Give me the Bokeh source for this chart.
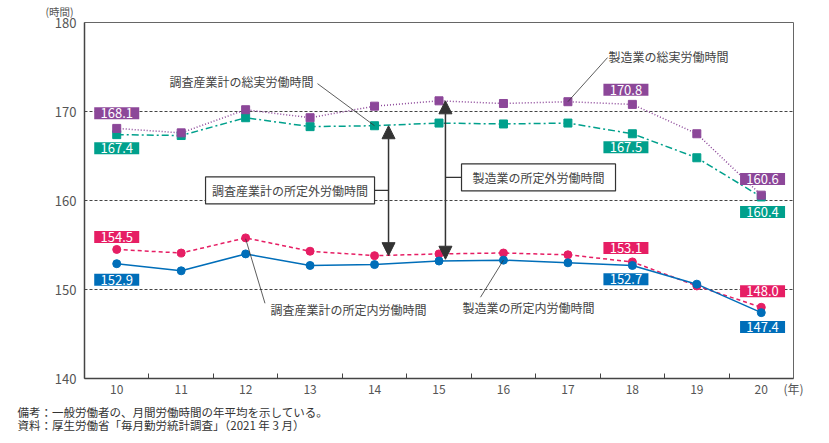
from bokeh.plotting import figure
from bokeh.models import Range1d, FixedTicker, Label, Arrow, NormalHead, Title
from bokeh.core.properties import value
from bokeh.embed import file_html
from bokeh.resources import INLINE

# ---- data ----
years = [10, 11, 12, 13, 14, 15, 16, 17, 18, 19, 20]
mfg_total = [168.1, 167.6, 170.2, 169.3, 170.6, 171.2, 170.9, 171.1, 170.8, 167.5, 160.6]
all_total = [167.4, 167.3, 169.3, 168.3, 168.4, 168.7, 168.6, 168.7, 167.5, 164.8, 160.4]
all_sched = [154.5, 154.1, 155.8, 154.3, 153.8, 154.0, 154.1, 153.9, 153.1, 150.4, 148.0]
mfg_sched = [152.9, 152.1, 154.0, 152.7, 152.8, 153.2, 153.3, 153.0, 152.7, 150.6, 147.4]
y_ticks = [140, 150, 160, 170, 180]
grid_ticks = [150, 160, 170]
x_tick_labels = {y: str(y) for y in years}

series_names = {
    "mfg_total": "製造業の総実労働時間",
    "all_total": "調査産業計の総実労働時間",
    "all_sched": "調査産業計の所定内労働時間",
    "mfg_sched": "製造業の所定内労働時間",
    "all_over": "調査産業計の所定外労働時間",
    "mfg_over": "製造業の所定外労働時間",
}
y_unit = "(時間)"
x_unit = "(年)"
note1 = "備考：一般労働者の、月間労働時間の年平均を示している。"
note2 = "資料：厚生労働省「毎月勤労統計調査」（2021 年 3 月）"

PURPLE = "#8C4799"
GREEN = "#00A08C"
PINK = "#E61E64"
BLUE = "#006EB9"
DARK = "#333333"
JP = "Noto Sans CJK JP"


def set_lh(model, lh):
    if "text_line_height" in model.properties():
        model.text_line_height = lh


p = figure(width=829, height=443, output_backend="svg", toolbar_location=None,
           x_range=Range1d(9.5, 20.5), y_range=Range1d(140, 180),
           min_border_left=84, min_border_right=36, min_border_top=22, min_border_bottom=65)
p.outline_line_color = "#666666"
p.outline_line_width = 1

# title used as y unit label
p.title.text = y_unit
p.title.align = "left"
p.title.vertical_align = "top"
p.title.offset = -39
p.title.standoff = 3
p.title.text_font = JP
p.title.text_font_size = "10.5px"
p.title.text_font_style = "normal"
p.title.text_color = "#555555"
set_lh(p.title, 1.0)

# axes
p.xaxis.ticker = FixedTicker(ticks=years, minor_ticks=[y + 0.5 for y in years[:-1]])
p.xaxis.major_label_overrides = x_tick_labels
p.xaxis.major_tick_line_color = None
p.xaxis.minor_tick_in = 5
p.xaxis.minor_tick_out = 0
p.xaxis.minor_tick_line_color = "#444444"
p.xaxis.axis_line_color = "#444444"
p.xaxis.axis_line_width = 1.5
p.xaxis.major_label_standoff = 0
p.xaxis.major_label_text_font = JP
p.xaxis.major_label_text_font_size = "12px"
p.xaxis.major_label_text_color = "#555555"
p.xaxis.axis_label = x_unit
p.xaxis.axis_label_text_font = JP
p.xaxis.axis_label_text_font_size = "12px"
p.xaxis.axis_label_text_font_style = "normal"
p.xaxis.axis_label_text_color = "#555555"
p.xaxis.axis_label_standoff = -17
p.xaxis.axis_label_align = "end"

p.yaxis.ticker = FixedTicker(ticks=y_ticks)
p.yaxis.major_tick_in = 0
p.yaxis.major_tick_out = 0
p.yaxis.minor_tick_line_color = None
p.yaxis.axis_line_color = "#444444"
p.yaxis.axis_line_width = 1.5
p.yaxis.major_label_standoff = 8
p.yaxis.major_label_text_font = JP
p.yaxis.major_label_text_font_size = "13px"
p.yaxis.major_label_text_color = "#555555"

p.xgrid.visible = False
p.ygrid.ticker = FixedTicker(ticks=grid_ticks)
p.ygrid.grid_line_color = "#444444"
p.ygrid.grid_line_dash = "3 2"
p.ygrid.grid_line_width = 1

# series
p.line(years, all_total, color=GREEN, line_width=1.5, line_dash="7 3 2 3")
p.line(years, mfg_total, color=PURPLE, line_width=1.5, line_dash="1 2")
p.line(years, all_sched, color=PINK, line_width=1.5, line_dash="4 3")
p.line(years, mfg_sched, color=BLUE, line_width=1.5)
p.scatter(years, all_total, marker="square", size=8, color=GREEN)
p.scatter(years, mfg_total, marker="square", size=8, color=PURPLE)
p.scatter(years, all_sched, marker="circle", size=8, color=PINK)
p.scatter(years, mfg_sched, marker="circle", size=8, color=BLUE)

# value label boxes
idx = [0, 8, 10]
box_pos = {
    "mfg_total": [(10, 169.8), (17.9, 172.45), (20.02, 162.42)],
    "all_total": [(10, 165.86), (17.9, 165.97), (20.02, 158.70)],
    "all_sched": [(10, 155.89), (17.9, 154.65), (20.02, 149.80)],
    "mfg_sched": [(10, 151.10), (17.9, 151.15), (20.02, 145.80)],
}
series_vals = {"mfg_total": mfg_total, "all_total": all_total,
               "all_sched": all_sched, "mfg_sched": mfg_sched}
series_col = {"mfg_total": PURPLE, "all_total": GREEN, "all_sched": PINK, "mfg_sched": BLUE}
for key, poss in box_pos.items():
    xs = [q[0] for q in poss]
    ys = [q[1] for q in poss]
    txt = ["%.1f" % series_vals[key][i] for i in idx]
    p.rect(xs, ys, width=45, height=12, width_units="screen", height_units="screen",
           fill_color=series_col[key], line_color=None)
    p.text(xs, ys, text=txt, text_align="center", text_baseline="middle",
           text_color="white", text_font=value(JP), text_font_size="13px")

# callouts with leader lines
callouts = [
    ("all_total", 11.936, 173.35, 13.115, 173.13, 14.0, 168.4),
    ("mfg_total", 18.56, 176.17, 17.615, 176.06, 17.0, 171.1),
    ("all_sched", 13.596, 147.78, 12.30, 148.45, 12.0, 155.7),
    ("mfg_sched", 16.389, 148.0, 15.644, 149.13, 16.0, 153.3),
]
for key, tx, ty, x0, y0, x1, y1 in callouts:
    p.add_layout(Label(x=tx, y=ty, text=series_names[key], text_align="center",
                       text_baseline="middle", text_font=JP, text_font_size="12px",
                       text_color="#444444"))
    p.segment(x0=[x0], y0=[y0], x1=[x1], y1=[y1], line_color=DARK, line_width=0.8)

# overtime arrows and boxes
p.add_layout(Arrow(x_start=14.217, y_start=153.8, x_end=14.217, y_end=168.4,
                   start=NormalHead(size=13, fill_color=DARK, line_color=DARK),
                   end=NormalHead(size=13, fill_color=DARK, line_color=DARK),
                   line_color=DARK, line_width=1.5))
p.add_layout(Arrow(x_start=15.10, y_start=153.4, x_end=15.10, y_end=171.2,
                   start=NormalHead(size=13, fill_color=DARK, line_color=DARK),
                   end=NormalHead(size=13, fill_color=DARK, line_color=DARK),
                   line_color=DARK, line_width=1.5))
p.segment(x0=[14.0, 15.10], y0=[161.13, 162.59], x1=[14.217, 15.349], y1=[161.13, 162.59],
          line_color=DARK, line_width=1.2)
p.rect([12.689, 16.544], [161.13, 162.59], width=[169, 154], height=[27, 27],
       width_units="screen", height_units="screen",
       fill_color="white", line_color=DARK, line_width=1.2)
p.add_layout(Label(x=12.689, y=161.13, text=series_names["all_over"], text_align="center",
                   text_baseline="middle", text_font=JP, text_font_size="12px", text_color="#444444"))
p.add_layout(Label(x=16.544, y=162.59, text=series_names["mfg_over"], text_align="center",
                   text_baseline="middle", text_font=JP, text_font_size="12px", text_color="#444444"))

# notes as one two-line title below
notes = Title(text=note1 + "\n" + note2, align="left", offset=-67, standoff=6,
              text_font=JP, text_font_size="11.5px", text_font_style="normal",
              text_color="#333333")
set_lh(notes, 0.82)
p.add_layout(notes, "below")

open("out.html", "w").write(file_html(p, INLINE))
